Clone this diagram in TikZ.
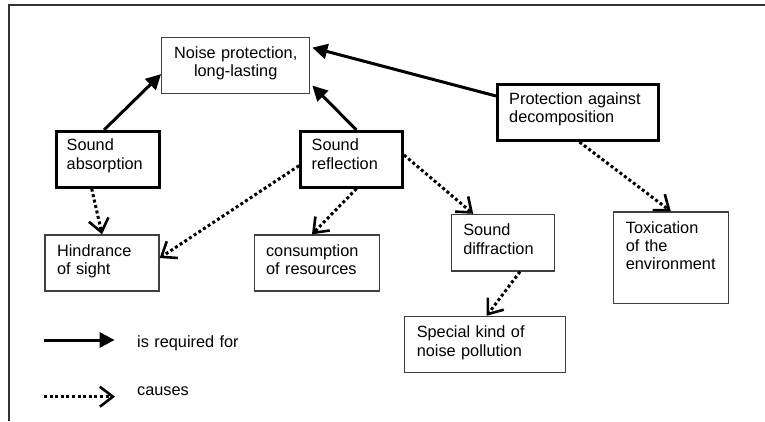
\documentclass[tikz,border=0pt]{standalone}
\usepackage{fontspec}
\setmainfont{Liberation Sans}
\usetikzlibrary{arrows.meta,calc}
\tikzset{
  thinbox/.style={draw=black!75, line width=1.3pt, inner sep=0pt, anchor=center},
  thickbox/.style={draw=black, line width=3pt, inner sep=0pt, anchor=center},
  lbl/.style={inner sep=0pt, anchor=base west, text width=160pt, align=left,
    font=\fontsize{16.3}{18.3}\selectfont},
  req/.style={line width=3pt, -{Triangle[length=15pt,width=15pt]}},
  cause/.style={line width=3pt, dash pattern=on 3pt off 2.6pt,
    -{Straight Barb[length=13pt,width=20pt,line width=2.6pt]}},
  frameline/.style={draw=black!80, line width=2pt}
}
\begin{document}
\begin{tikzpicture}[x=1pt,y=-1pt]
\useasboundingbox (0,0) rectangle (765,421);
\draw[frameline] (8.5,421) -- (8.5,5) -- (765,5);

% boxes
\node[thinbox, minimum width=148pt, minimum height=56pt] (noise) at (235.7,65.6) {};
\node[thickbox, minimum width=103pt, minimum height=55.7pt] (abs) at (107.5,159.3) {};
\node[thickbox, minimum width=102pt, minimum height=55.7pt] (refl) at (351.5,159.3) {};
\node[thickbox, minimum width=161pt, minimum height=56pt] (prot) at (578,112.5) {};
\node[thinbox, minimum width=114pt, minimum height=56pt] (hind) at (102,263) {};
\node[thinbox, minimum width=125pt, minimum height=56pt] (cons) at (317,263) {};
\node[thinbox, minimum width=103pt, minimum height=56.5pt] (diff) at (502.7,242.7) {};
\node[thinbox, minimum width=115pt, minimum height=91.5pt] (tox) at (670.8,257.7) {};
\node[thinbox, minimum width=161pt, minimum height=56pt] (spec) at (485.2,344.4) {};

% texts
\node[lbl, anchor=base, text width=148pt, align=center] (noise-t) at ([yshift=-21.5pt]noise.north) {Noise protection,\\long-lasting};
\node[lbl] (abs-t) at ([xshift=12pt,yshift=-21pt]abs.north west) {Sound\\absorption};
\node[lbl] (refl-t) at ([xshift=12.5pt,yshift=-21pt]refl.north west) {Sound\\reflection};
\node[lbl] (prot-t) at ([xshift=13pt,yshift=-21.5pt]prot.north west) {Protection against\\decomposition};
\node[lbl] (hind-t) at ([xshift=12.5pt,yshift=-22pt]hind.north west) {Hindrance\\of sight};
\node[lbl] (cons-t) at ([xshift=12pt,yshift=-22pt]cons.north west) {consumption\\of resources};
\node[lbl] (diff-t) at ([xshift=12.5pt,yshift=-22pt]diff.north west) {Sound\\diffraction};
\node[lbl] (tox-t) at ([xshift=13pt,yshift=-22pt]tox.north west) {Toxication\\of the\\environment};
\node[lbl] (spec-t) at ([xshift=12.5pt,yshift=-22pt]spec.north west) {Special kind of\\noise pollution};

% is required for
\draw[req] ([xshift=-3.5pt]abs.north) -- ([yshift=-8.5pt]noise.west);
\draw[req] ([xshift=5pt]refl.north) -- ([xshift=2pt,yshift=-20pt]noise.east);
\draw[req] ([yshift=16.5pt]prot.west) -- ([xshift=2pt,yshift=18pt]noise.east);

% causes
\draw[cause] ([xshift=-15.8pt]abs.south) -- (hind.north);
\draw[cause] ([yshift=-6.4pt]refl.west) -- ([yshift=5pt]hind.east);
\draw[cause] ([xshift=5pt]refl.south) -- ([xshift=-5pt]cons.north);
\draw[cause] ([yshift=4.3pt]refl.east) -- ([xshift=-29.5pt]diff.north);
\draw[cause] ([xshift=1.5pt]prot.south) -- (tox.north);
\draw[cause] ([xshift=17.3pt]diff.south) -- ([xshift=1.5pt]spec.north);

% legend
\coordinate (l1a) at (44,340);
\coordinate (l1b) at (114.6,340);
\coordinate (l2a) at (44,396.7);
\coordinate (l2b) at (115,396.7);
\draw[req] (l1a) -- (l1b);
\draw[cause] (l2a) -- (l2b);
\node[lbl] (l1t) at (137,347.5) {is required for};
\node[lbl] (l2t) at (137,395.5) {causes};
\end{tikzpicture}
\end{document}
